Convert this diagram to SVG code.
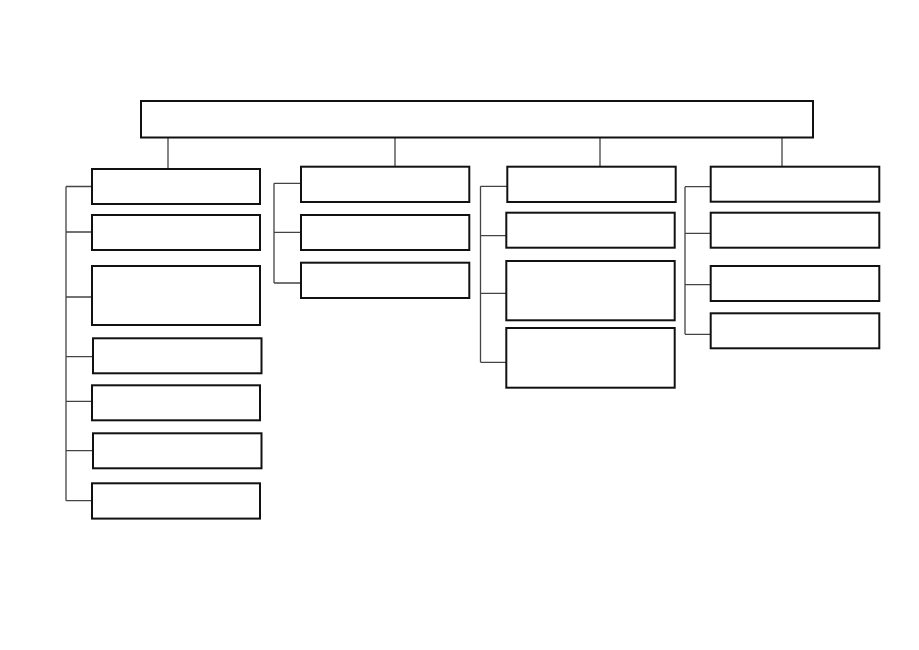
<svg xmlns="http://www.w3.org/2000/svg" width="919" height="650" viewBox="0 0 919 650">
<style>
.box{fill:#fff;stroke:#111;stroke-width:2}
.con{fill:none;stroke:#444;stroke-width:1.3}
</style>
<rect width="919" height="650" fill="#fff"/>
<g id="connectors">
<path class="con" d="M168 138V169M395 138V167M600 138V167M782 138V167"/>
<path class="con" d="M66 186.5V500.7M66 186.5H92M66 232H92M66 297H92M66 356.7H93M66 401.3H92M66 450.7H93M66 500.7H92"/>
<path class="con" d="M274 183.3V283M274 183.3H301M274 232.3H301M274 283H301"/>
<path class="con" d="M480.5 186.3V362.3M480.5 186.3H507M480.5 235.7H506M480.5 293.3H506M480.5 362.3H506"/>
<path class="con" d="M685 186.7V334.3M685 186.7H711M685 233.3H711M685 284.7H711M685 334.3H711"/>
</g>
<g id="root"><rect class="box" x="141" y="101" width="672" height="36.5"/></g>
<g id="c1n1"><rect class="box" x="92" y="169" width="168" height="35"/></g>
<g id="c1n2"><rect class="box" x="92" y="215" width="168" height="35"/></g>
<g id="c1n3"><rect class="box" x="92" y="266" width="168" height="59"/></g>
<g id="c1n4"><rect class="box" x="93" y="338.3" width="168.5" height="35"/></g>
<g id="c1n5"><rect class="box" x="92" y="385.3" width="168" height="35"/></g>
<g id="c1n6"><rect class="box" x="93" y="433.3" width="168.5" height="35"/></g>
<g id="c1n7"><rect class="box" x="92" y="483.3" width="168" height="35.3"/></g>
<g id="c2n1"><rect class="box" x="301" y="166.7" width="168.3" height="35.3"/></g>
<g id="c2n2"><rect class="box" x="301" y="215" width="168.3" height="35"/></g>
<g id="c2n3"><rect class="box" x="301" y="262.7" width="168.3" height="35.3"/></g>
<g id="c3n1"><rect class="box" x="507.3" y="166.7" width="168.4" height="35.3"/></g>
<g id="c3n2"><rect class="box" x="506.3" y="212.7" width="168.4" height="35"/></g>
<g id="c3n3"><rect class="box" x="506.3" y="261" width="168.4" height="59.3"/></g>
<g id="c3n4"><rect class="box" x="506.3" y="328" width="168.4" height="59.7"/></g>
<g id="c4n1"><rect class="box" x="710.7" y="166.7" width="168.6" height="35"/></g>
<g id="c4n2"><rect class="box" x="710.7" y="212.7" width="168.6" height="35"/></g>
<g id="c4n3"><rect class="box" x="710.7" y="266" width="168.6" height="35"/></g>
<g id="c4n4"><rect class="box" x="710.7" y="313.3" width="168.6" height="35"/></g>
</svg>
